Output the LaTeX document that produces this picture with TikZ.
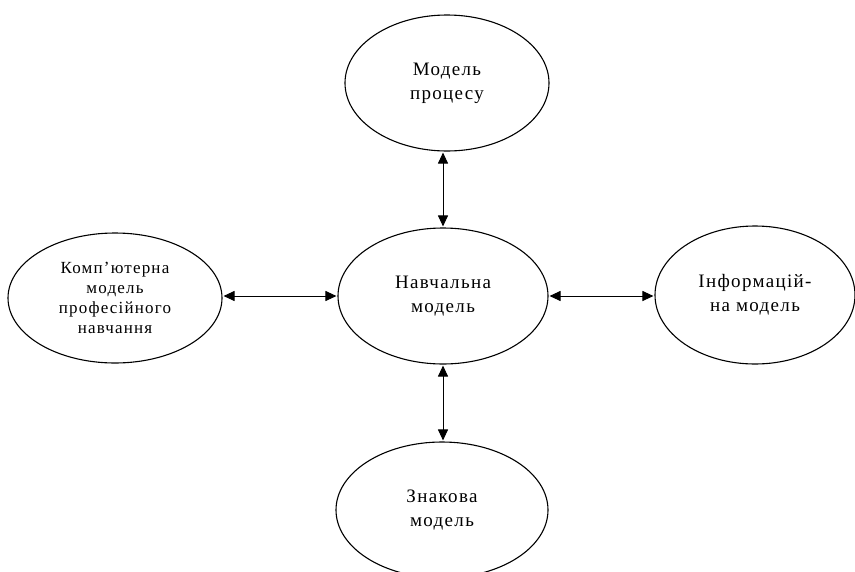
\documentclass[tikz,border=0pt]{standalone}
\usepackage{fontspec}
\setmainfont{Liberation Serif}[LetterSpace=7]
\usetikzlibrary{shapes.geometric,arrows.meta}
\begin{document}
\begin{tikzpicture}[x=1pt,y=-1pt,
  ell/.style={draw, ellipse, line width=1.1pt, inner sep=0pt, align=center, font=\fontsize{19}{24}\selectfont},
  conn/.style={{Triangle[length=11pt,width=10pt]}-{Triangle[length=11pt,width=10pt]}, line width=1pt, shorten <=1pt, shorten >=1pt}]
\useasboundingbox (0,0) rectangle (855,571);
\node[ell, minimum width=204pt, minimum height=136pt] (t) at (447,83) {Модель\\процесу};
\node[ell, minimum width=210pt, minimum height=136pt] (c) at (443,296) {Навчальна\\модель};
\node[ell, minimum width=214pt, minimum height=130pt, font=\fontsize{17}{20}\selectfont] (l) at (115,298) {Комп’ютерна\\модель\\професійного\\навчання};
\node[ell, minimum width=200pt, minimum height=138pt] (r) at (755,295) {Інформацій-\\на модель};
\node[ell, minimum width=212pt, minimum height=136pt] (b) at (442,510) {Знакова\\модель};
\draw[conn] (c.north) -- (c.north |- t.south);
\draw[conn] (c.south) -- (c.south |- b.north);
\draw[conn] (c.west) -- (l.east |- c.west);
\draw[conn] (c.east) -- (r.west |- c.east);
\end{tikzpicture}
\end{document}
